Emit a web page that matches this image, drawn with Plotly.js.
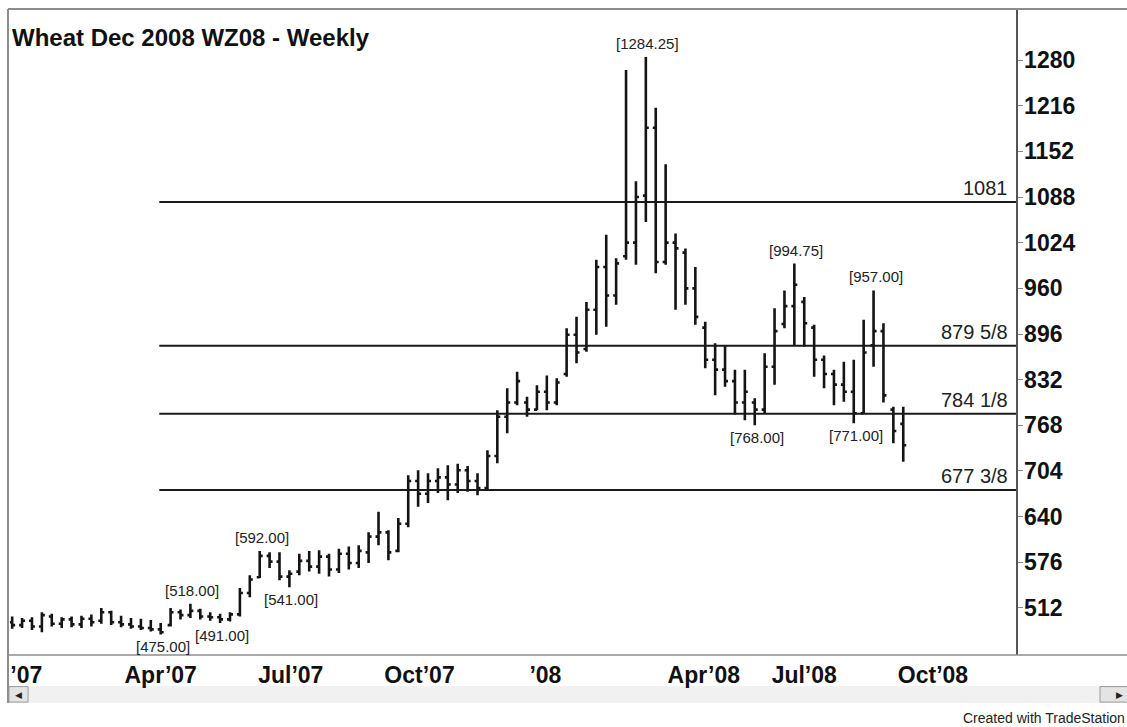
<!DOCTYPE html>
<html>
<head>
<meta charset="utf-8">
<script src="https://cdn.plot.ly/plotly-3.0.1.min.js"></script>
<style>
  html, body { margin: 0; padding: 0; background: #ffffff; }
  #chart { width: 1127px; height: 727px; }
</style>
</head>
<body>
<div id="chart"></div>
<script>
// ---- Weekly bar dates (Fridays) ----
const weekDates = [
  '2006-12-22','2006-12-29',
  '2007-01-05','2007-01-12','2007-01-19','2007-01-26','2007-02-02','2007-02-09','2007-02-16','2007-02-23',
  '2007-03-02','2007-03-09','2007-03-16','2007-03-23','2007-03-30','2007-04-06','2007-04-13','2007-04-20',
  '2007-04-27','2007-05-04','2007-05-11','2007-05-18','2007-05-25','2007-06-01','2007-06-08','2007-06-15',
  '2007-06-22','2007-06-29','2007-07-06','2007-07-13','2007-07-20','2007-07-27','2007-08-03','2007-08-10',
  '2007-08-17','2007-08-24','2007-08-31','2007-09-07','2007-09-14','2007-09-21','2007-09-28','2007-10-05',
  '2007-10-12','2007-10-19','2007-10-26','2007-11-02','2007-11-09','2007-11-16','2007-11-23','2007-11-30',
  '2007-12-07','2007-12-14','2007-12-21','2007-12-28','2008-01-04','2008-01-11','2008-01-18','2008-01-25',
  '2008-02-01','2008-02-08','2008-02-15','2008-02-22','2008-02-29','2008-03-07','2008-03-14','2008-03-21',
  '2008-03-28','2008-04-04','2008-04-11','2008-04-18','2008-04-25','2008-05-02','2008-05-09','2008-05-16',
  '2008-05-23','2008-05-30','2008-06-06','2008-06-13','2008-06-20','2008-06-27','2008-07-04','2008-07-11',
  '2008-07-18','2008-07-25','2008-08-01','2008-08-08','2008-08-15','2008-08-22','2008-08-29','2008-09-05',
  '2008-09-12'
];

// ---- OHLC values (cents/bushel) ----
const openP = [
  492,488,494,486,500,490,496,489,497,494,506,492,489,486,484,482,488,506,502,508,
  500,499,496,503,533,555,585,577,556,563,578,570,584,566,588,575,590,612,618,592,
  630,690,672,690,695,685,705,690,680,725,780,800,800,790,815,800,840,895,875,930,
  990,950,1005,1024,1090,1185,997,1024,1010,960,905,860,846,830,800,800,790,850,910,935,
  941,905,860,840,825,815,785,880,900,790,770
];
const highP = [
  500,498,499,506,504,499,500,501,503,512,508,501,498,497,495,491,512,510,518,511,
  506,504,506,540,558,592,590,590,565,588,592,593,588,595,598,600,618,647,621,638,
  698,705,701,708,712,714,711,701,733,789,820,843,808,824,838,834,904,920,941,1000,
  1035,1002,1266,1110,1284.25,1213,1134,1037,1016,990,913,883,880,846,846,806,869,932,957,994.75,
  948,909,866,846,857,860,916,957,911,794,794
];
const lowP = [
  483,484,481,478,486,484,485,484,486,490,488,485,483,481,479,475,486,496,498,496,
  494,491,493,500,527,554,568,551,541,558,563,560,556,561,566,568,575,600,579,590,
  625,654,659,673,663,673,675,670,677,715,757,796,780,789,789,796,836,855,871,895,
  906,937,1000,993,1053,981,993,930,937,909,848,810,822,783,775,768,785,825,904,880,
  878,836,820,796,801,771,785,850,800,743,717
];
const closeP = [
  488,494,486,502,490,496,489,497,492,506,492,489,486,484,482,478,506,502,508,500,
  499,496,503,533,552,585,577,556,560,578,570,584,566,588,575,592,612,618,590,630,
  690,672,690,695,685,705,690,680,725,780,800,830,790,815,800,828,895,870,930,990,
  950,995,1024,1088,1185,997,1024,1016,960,920,860,846,830,800,815,790,850,900,935,965,
  911,860,840,825,815,785,870,900,810,760,740
];

// ---- Level lines ----
const levelValues = [1081, 879.625, 784.125, 677.375];
const levelLabels = ['1081', '879 5/8', '784 1/8', '677 3/8'];
const levelStartDate = '2007-04-05';

// ---- Swing high / low callouts (index into the bar arrays) ----
const calloutIndex = [64, 79, 87, 75, 85, 25, 28, 18, 21, 15];
const calloutSide  = ['high','high','high','low','low','high','low','high','low','low'];

// ---- Axis ticks ----
const priceTicks = [512, 576, 640, 704, 768, 832, 896, 960, 1024, 1088, 1152, 1216, 1280];
const dateTickVals = ['2007-01-01','2007-04-06','2007-07-07','2007-10-06','2008-01-03','2008-04-24','2008-07-04','2008-10-03'];
const dateTickText = ["’07","Apr’07","Jul’07","Oct’07","’08","Apr’08","Jul’08","Oct’08"];

const xRange = ['2006-12-20 11:00', '2008-11-30 17:00'];
const yRange = [446.1, 1350.1];

const barTrace = {
  type: 'ohlc',
  x: weekDates,
  open: openP, high: highP, low: lowP, close: closeP,
  increasing: { line: { color: '#141414', width: 2.6 } },
  decreasing: { line: { color: '#141414', width: 2.6 } },
  tickwidth: 0.3,
  hoverinfo: 'none',
  showlegend: false
};

const shapes = [];
levelValues.forEach(v => {
  shapes.push({ type: 'line', xref: 'x', yref: 'y', x0: levelStartDate, x1: xRange[1], y0: v, y1: v,
                line: { color: '#1a1a1a', width: 2 } });
});
// frame
shapes.push({ type: 'line', xref: 'paper', yref: 'paper', x0: -0.002, x1: 1.12, y0: 1.0016, y1: 1.0016, line: { color: '#8c8c8c', width: 2 } });
shapes.push({ type: 'line', xref: 'paper', yref: 'paper', x0: -0.002, x1: -0.002, y0: 1.0016, y1: -0.0744, line: { color: '#8c8c8c', width: 2 } });
shapes.push({ type: 'line', xref: 'paper', yref: 'paper', x0: -0.002, x1: 1.12, y0: 0, y1: 0, line: { color: '#8c8c8c', width: 1.5 } });
// scrollbar strip
shapes.push({ type: 'rect', xref: 'paper', yref: 'paper', x0: 0.0, x1: 1.12, y0: -0.048, y1: -0.0744, fillcolor: '#f1f1f1', line: { width: 0 }, layer: 'below' });
shapes.push({ type: 'rect', xref: 'paper', yref: 'paper', x0: -0.001, x1: 0.018, y0: -0.049, y1: -0.073, fillcolor: '#e4e4e4', line: { color: '#9a9a9a', width: 1 } });
shapes.push({ type: 'rect', xref: 'paper', yref: 'paper', x0: 1.0835, x1: 1.12, y0: -0.049, y1: -0.073, fillcolor: '#e4e4e4', line: { color: '#9a9a9a', width: 1 } });

const annotations = [];
annotations.push({ xref: 'paper', yref: 'paper', x: 0, y: 0.9566, xanchor: 'left', yanchor: 'middle', showarrow: false,
  text: '<b>Wheat Dec 2008 WZ08 - Weekly</b>', font: { family: 'Liberation Sans, Arial, sans-serif', size: 24, color: '#111' } });
levelValues.forEach((v, k) => {
  annotations.push({ xref: 'paper', yref: 'y', x: 0.994, y: v, xanchor: 'right', yanchor: 'bottom', yshift: 1, showarrow: false,
    text: levelLabels[k], font: { family: 'Liberation Sans, Arial, sans-serif', size: 20, color: '#222' } });
});
calloutIndex.forEach((idx, k) => {
  const isHigh = calloutSide[k] === 'high';
  const val = isHigh ? highP[idx] : lowP[idx];
  annotations.push({ xref: 'x', yref: 'y', x: weekDates[idx], y: val, xanchor: 'center',
    yanchor: isHigh ? 'bottom' : 'top', yshift: isHigh ? 3 : -2, xshift: 2, showarrow: false,
    text: '[' + val.toFixed(2) + ']', font: { family: 'Liberation Sans, Arial, sans-serif', size: 15, color: '#222' } });
});
annotations.push({ xref: 'paper', yref: 'paper', x: 0.0085, y: -0.0612, xanchor: 'center', yanchor: 'middle', showarrow: false,
  text: '◀', font: { size: 9, color: '#222' } });
annotations.push({ xref: 'paper', yref: 'paper', x: 1.1024, y: -0.0612, xanchor: 'center', yanchor: 'middle', showarrow: false,
  text: '▶', font: { size: 9, color: '#222' } });
annotations.push({ xref: 'paper', yref: 'paper', x: 0.9453, y: -0.0977, xanchor: 'left', yanchor: 'middle', showarrow: false,
  text: 'Created with TradeStation', font: { family: 'Liberation Sans, Arial, sans-serif', size: 14, color: '#222' } });

const layout = {
  width: 1127, height: 727,
  margin: { l: 10, r: 111, t: 10, b: 72 },
  paper_bgcolor: '#ffffff', plot_bgcolor: '#ffffff',
  showlegend: false,
  dragmode: false,
  xaxis: {
    type: 'date', range: xRange, rangeslider: { visible: false },
    tickmode: 'array', tickvals: dateTickVals, ticktext: dateTickText.map(t => '<b>' + t + '</b>'),
    tickangle: 0, ticks: '', showgrid: false, zeroline: false, showline: false, ticklabelstandoff: 4,
    tickfont: { family: 'Liberation Sans, Arial, sans-serif', size: 23, color: '#111' },
    fixedrange: true
  },
  yaxis: {
    side: 'right', range: yRange,
    tickmode: 'array', tickvals: priceTicks, ticktext: priceTicks.map(t => '<b>' + t + '</b>'),
    ticks: 'outside', ticklen: 5, tickcolor: '#8a8a8a', tickwidth: 1, ticklabelstandoff: -3,
    showline: true, linecolor: '#555', linewidth: 1.5, mirror: false,
    showgrid: false, zeroline: false,
    tickfont: { family: 'Liberation Sans, Arial, sans-serif', size: 23, color: '#111' },
    fixedrange: true
  },
  shapes: shapes,
  annotations: annotations
};

Plotly.newPlot('chart', [barTrace], layout, { displayModeBar: false, staticPlot: true });
</script>
</body>
</html>
